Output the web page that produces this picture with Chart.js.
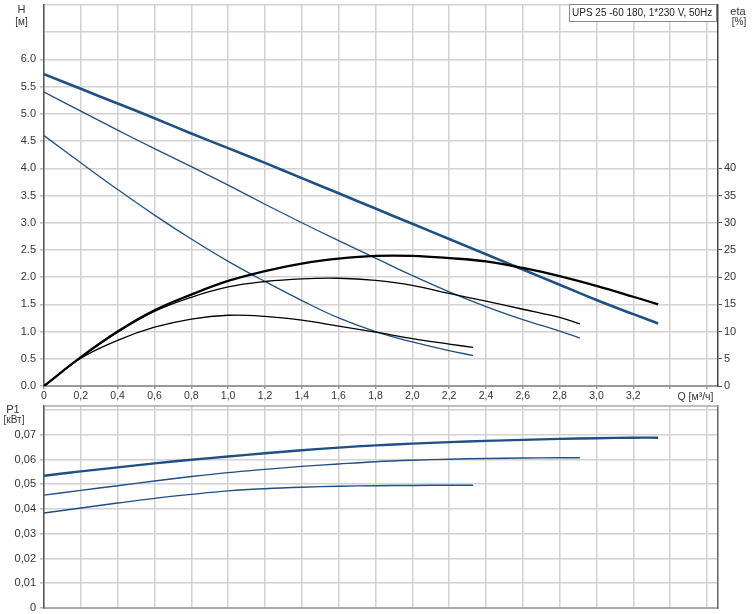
<!DOCTYPE html>
<html>
<head>
<meta charset="utf-8">
<script src="https://cdn.jsdelivr.net/npm/chart.js@4"></script>
<style>
html,body{margin:0;padding:0;background:#fff;}
#wrap{position:relative;width:753px;height:614px;overflow:hidden;}
#c1{position:absolute;left:0;top:0;}
#c2{position:absolute;left:0;top:400px;}
</style>
</head>
<body>
<div id="wrap">
<canvas id="c1" width="753" height="405"></canvas>
<canvas id="c2" width="753" height="214"></canvas>
</div>
<script>
// ---- data ----
const q1 = [0, 0.2, 0.4, 0.6, 0.8, 1.0, 1.2, 1.4, 1.6, 1.8, 2.0, 2.2, 2.33];
const q2 = [0, 0.2, 0.4, 0.6, 0.8, 1.0, 1.2, 1.4, 1.6, 1.8, 2.0, 2.2, 2.4, 2.6, 2.8, 2.91];
const q3 = [0, 0.2, 0.4, 0.6, 0.8, 1.0, 1.2, 1.4, 1.6, 1.8, 2.0, 2.2, 2.4, 2.6, 2.8, 3.0, 3.2, 3.335];

const h1 = [4.60, 4.10, 3.61, 3.14, 2.70, 2.29, 1.92, 1.57, 1.25, 1.00, 0.81, 0.65, 0.56];
const h2 = [5.40, 5.05, 4.70, 4.36, 4.03, 3.69, 3.34, 3.00, 2.67, 2.35, 2.03, 1.73, 1.46, 1.22, 1.01, 0.88];
const h3 = [5.73, 5.46, 5.19, 4.92, 4.64, 4.37, 4.10, 3.82, 3.54, 3.26, 2.98, 2.70, 2.42, 2.14, 1.86, 1.58, 1.32, 1.15];

const eta1 = [0, 5.1, 8.4, 10.8, 12.3, 13.0, 12.8, 12.1, 11.0, 9.9, 8.7, 7.7, 7.1];
const eta2 = [0, 5.25, 9.9, 13.7, 16.3, 18.2, 19.2, 19.7, 19.8, 19.4, 18.5, 17.0, 15.6, 14.1, 12.6, 11.4];
const eta3 = [0, 5.3, 10.0, 13.9, 16.8, 19.3, 21.1, 22.5, 23.4, 23.9, 23.9, 23.5, 22.9, 21.7, 20.2, 18.4, 16.4, 15.0];

const p1 = [0.0384, 0.0404, 0.0424, 0.0443, 0.0459, 0.0473, 0.0482, 0.0488, 0.0492, 0.0494, 0.0495, 0.0496, 0.0496];
const p2 = [0.0456, 0.0475, 0.0494, 0.0513, 0.0531, 0.0547, 0.0560, 0.0572, 0.0582, 0.0591, 0.0597, 0.0601, 0.0604, 0.0606, 0.0607, 0.0607];
const p3 = [0.0534, 0.0552, 0.0568, 0.0584, 0.0599, 0.0612, 0.0625, 0.0637, 0.0648, 0.0657, 0.0664, 0.0670, 0.0675, 0.0679, 0.0683, 0.0686, 0.0688, 0.0688];

const qTicks = [0, 0.2, 0.4, 0.6, 0.8, 1.0, 1.2, 1.4, 1.6, 1.8, 2.0, 2.2, 2.4, 2.6, 2.8, 3.0, 3.2, 3.4, 3.6];
const hTicks = [0, 0.5, 1.0, 1.5, 2.0, 2.5, 3.0, 3.5, 4.0, 4.5, 5.0, 5.5, 6.0, 6.5, 7.0];
const etaTicks = [0, 5, 10, 15, 20, 25, 30, 35, 40];
const pTicks = [0, 0.01, 0.02, 0.03, 0.04, 0.05, 0.06, 0.07, 0.08];

const title = 'UPS 25 -60 180, 1*230 V, 50Hz';

// ---- helpers ----
const pts = (qs, vs) => qs.map((q, i) => ({x: q, y: vs[i]}));
const FONT = '"Liberation Sans", Arial, sans-serif';
const TXT = '#333';
const GRID = '#d2d2d2';
const BLUE = '#1f4f84';
const setTicks = arr => s => { s.ticks = arr.map(v => ({value: v})); };
const noPad = s => { s.paddingTop = 0; s.paddingBottom = 0; s.paddingLeft = 0; s.paddingRight = 0; };

function line(data, axis, color, width) {
  return {data, yAxisID: axis, borderColor: color, borderWidth: width, pointRadius: 0,
          fill: false, tension: 0.4, borderCapStyle: 'butt', borderJoinStyle: 'round'};
}

const textPlugin1 = {
  id: 'txt1',
  afterDraw(chart) {
    const c = chart.ctx;
    c.save();
    c.fillStyle = TXT;
    c.textAlign = 'center';
    c.textBaseline = 'middle';
    c.font = '11px ' + FONT;
    c.fillText('H', 21.5, 9.5);
    c.fillText('eta', 738, 11.5);
    c.font = '10px ' + FONT;
    c.fillText('[м]', 21.5, 22.5);
    c.fillText('[%]', 739, 22.5);
    c.font = '10.5px ' + FONT;
    c.fillText('Q [м³/ч]', 695.5, 397);
    // title box
    c.fillStyle = '#fff';
    c.fillRect(569.5, 4.5, 147, 17);
    c.strokeStyle = '#888';
    c.lineWidth = 1;
    c.strokeRect(569.5, 4.5, 147, 17);
    c.fillStyle = '#222';
    c.textAlign = 'left';
    c.font = '10px ' + FONT;
    c.fillText(title, 572, 13.5);
    c.restore();
  }
};

const textPlugin2 = {
  id: 'txt2',
  afterDraw(chart) {
    const c = chart.ctx;
    const a = chart.chartArea;
    c.save();
    c.strokeStyle = '#a8a8a8';
    c.lineWidth = 1.5;
    c.beginPath(); c.moveTo(a.left, a.top); c.lineTo(a.right, a.top); c.stroke();
    c.fillStyle = TXT;
    c.textAlign = 'center';
    c.textBaseline = 'middle';
    c.font = '11px ' + FONT;
    c.fillText('P1', 13, 9.5);
    c.font = '10px ' + FONT;
    c.fillText('[кВт]', 14, 20);
    c.restore();
  }
};

// ---- top chart ----
new Chart(document.getElementById('c1'), {
  type: 'line',
  data: {
    datasets: [
      line(pts(q1, eta1), 'y2', '#000', 1.3),
      line(pts(q2, eta2), 'y2', '#000', 1.3),
      line(pts(q3, eta3), 'y2', '#000', 2.3),
      line(pts(q1, h1), 'y', BLUE, 1.3),
      line(pts(q2, h2), 'y', BLUE, 1.3),
      line(pts(q3, h3), 'y', BLUE, 2.6)
    ]
  },
  options: {
    responsive: false, animation: false,
    layout: {padding: {top: 5, left: 0, right: 0, bottom: 0}},
    plugins: {legend: {display: false}, tooltip: {enabled: false}},
    scales: {
      x: {
        type: 'linear', min: 0, max: 3.66,
        afterBuildTicks: setTicks(qTicks),
        afterFit: s => { s.height = 19; noPad(s); },
        grid: {color: GRID, lineWidth: 1.5, tickLength: 3, tickColor: '#999'},
        border: {color: '#999', width: 2},
        ticks: {padding: 1, color: TXT, font: {family: FONT, size: 10.5}, maxRotation: 0, autoSkip: false,
          callback: v => v > 3.3 ? '' : (v === 0 ? '0' : v.toFixed(1).replace('.', ','))}
      },
      y: {
        type: 'linear', position: 'left', min: 0, max: 7,
        afterBuildTicks: setTicks(hTicks),
        afterFit: s => { s.width = 44; noPad(s); },
        grid: {color: GRID, lineWidth: 1.5, tickLength: 4, tickColor: ctx => ctx.tick && ctx.tick.value > 6.01 ? 'rgba(0,0,0,0)' : '#bbb'},
        border: {color: '#555', width: 1.5},
        ticks: {padding: 4, color: TXT, font: {family: FONT, size: 11}, autoSkip: false,
          callback: v => v > 6.01 ? '' : v.toFixed(1)}
      },
      y2: {
        type: 'linear', position: 'right', min: 0, max: 70,
        afterBuildTicks: setTicks(etaTicks),
        afterFit: s => { s.width = 35; noPad(s); },
        grid: {drawOnChartArea: false, tickLength: 4, tickColor: '#555'},
        border: {color: '#444', width: 1.5},
        ticks: {padding: 2, color: TXT, font: {family: FONT, size: 11}, autoSkip: false,
          callback: v => String(v)}
      }
    }
  },
  plugins: [textPlugin1]
});

// ---- bottom chart ----
new Chart(document.getElementById('c2'), {
  type: 'line',
  data: {
    datasets: [
      line(pts(q1, p1), 'y', BLUE, 1.4),
      line(pts(q2, p2), 'y', BLUE, 1.4),
      line(pts(q3, p3), 'y', BLUE, 2.4)
    ]
  },
  options: {
    responsive: false, animation: false,
    layout: {padding: {top: 6, left: 0, right: 0, bottom: 6}},
    plugins: {legend: {display: false}, tooltip: {enabled: false}},
    scales: {
      x: {
        type: 'linear', min: 0, max: 3.66,
        afterBuildTicks: setTicks(qTicks),
        afterFit: s => { s.height = 0; noPad(s); },
        grid: {color: GRID, lineWidth: 1.5, drawTicks: false},
        border: {color: '#aaa', width: 2},
        ticks: {display: false}
      },
      y: {
        type: 'linear', position: 'left', min: 0, max: 0.0816,
        afterBuildTicks: setTicks(pTicks),
        afterFit: s => { s.width = 44; noPad(s); },
        grid: {color: GRID, lineWidth: 1.5, tickLength: 4, tickColor: ctx => ctx.tick && ctx.tick.value > 0.075 ? 'rgba(0,0,0,0)' : '#bbb'},
        border: {color: '#555', width: 1.5},
        ticks: {padding: 4, color: TXT, font: {family: FONT, size: 11}, autoSkip: false,
          callback: v => v > 0.075 ? '' : (v === 0 ? '0' : v.toFixed(2).replace('.', ','))}
      },
      yr: {
        type: 'linear', position: 'right', min: 0, max: 0.0816,
        afterFit: s => { s.width = 35; noPad(s); },
        grid: {drawOnChartArea: false, drawTicks: false},
        border: {color: '#666', width: 1.5},
        ticks: {display: false}
      }
    }
  },
  plugins: [textPlugin2]
});
</script>
</body>
</html>
